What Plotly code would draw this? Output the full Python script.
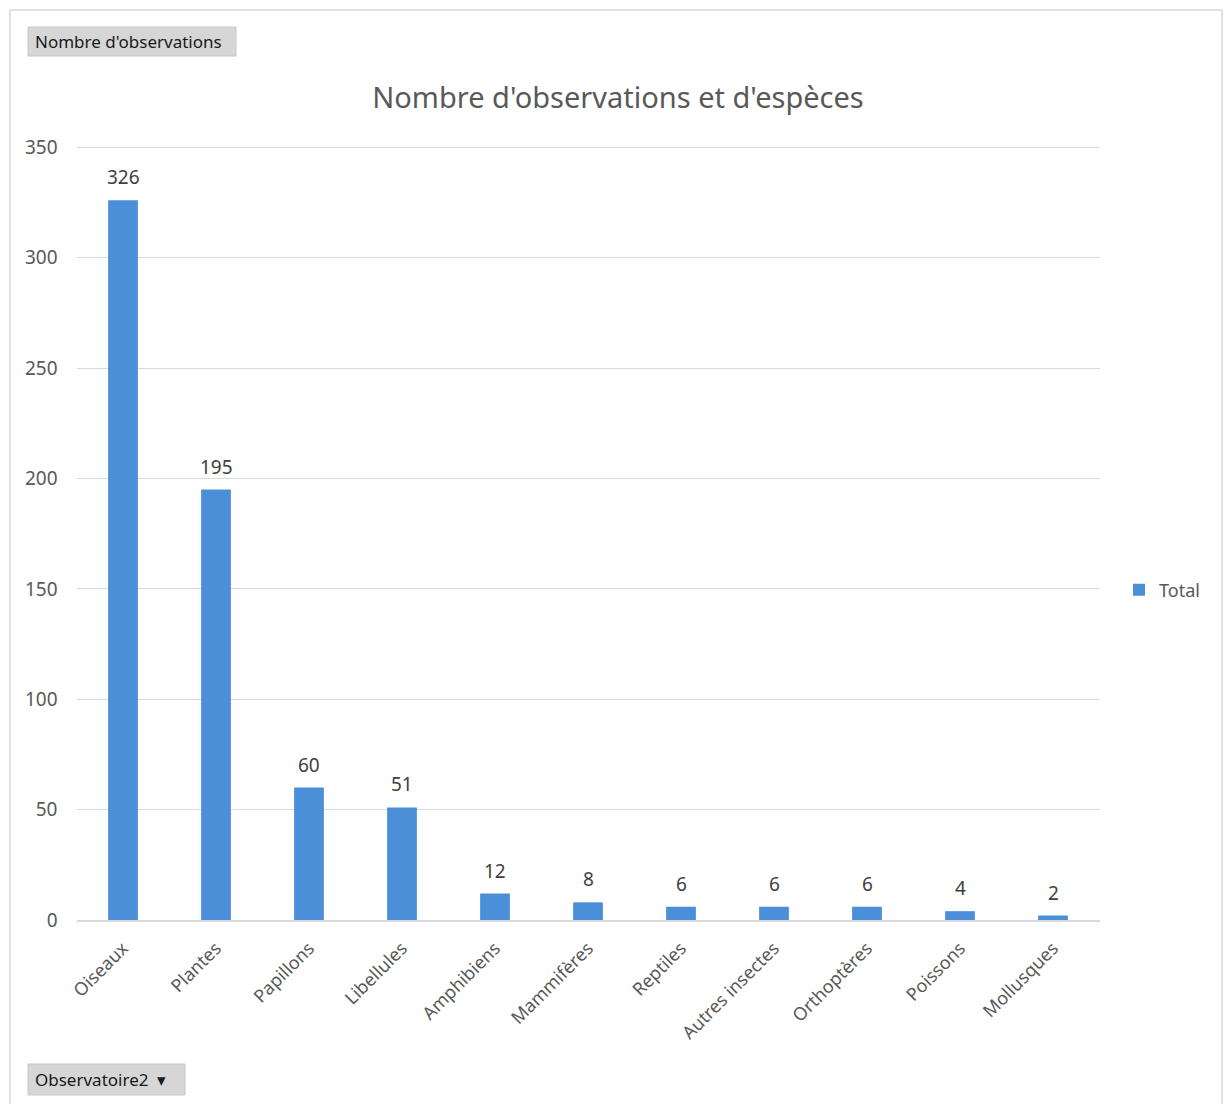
import plotly.graph_objects as go

categories = ["Oiseaux", "Plantes", "Papillons", "Libellules", "Amphibiens", "Mammifères",
              "Reptiles", "Autres insectes", "Orthoptères", "Poissons", "Mollusques"]
totals = [326, 195, 60, 51, 12, 8, 6, 6, 6, 4, 2]
y_ticks = [0, 50, 100, 150, 200, 250, 300, 350]

W, H = 1227, 1104
BAR = "#4A8FD8"
TXT = "#595959"
FONT = "Noto Sans"


def px_x(x):
    return x / W


def px_y(y):
    return 1 - y / H


fig = go.Figure(go.Bar(
    x=categories, y=totals, name="Total",
    marker=dict(color=BAR, line=dict(width=0)),
    cliponaxis=False,
))

# value labels sitting above each bar
value_labels = [
    dict(x=c, y=v, xref="x", yref="y", text=str(v), showarrow=False,
         yanchor="bottom", yshift=8, font=dict(size=19, color="#404040", family=FONT))
    for c, v in zip(categories, totals)
]

fig.update_layout(
    width=W, height=H,
    margin=dict(l=0, r=0, t=0, b=0),
    paper_bgcolor="white", plot_bgcolor="white",
    bargap=0.68,
    font=dict(family=FONT, color=TXT),
    title=dict(text="Nombre d'observations et d'espèces", x=px_x(618), xanchor="center",
               y=px_y(98), yanchor="middle", font=dict(size=29, color=TXT, family=FONT)),
    xaxis=dict(domain=[px_x(76.5), px_x(1099.5)], tickangle=-45, automargin=False,
               tickfont=dict(size=18, color=TXT), showline=True, linecolor="#d9d9d9",
               linewidth=1.5, ticks="", showgrid=False, ticklabelstandoff=9),
    yaxis=dict(domain=[px_y(920), px_y(146)], range=[0, 350.6], tickvals=y_ticks,
               automargin=False, tickfont=dict(size=19, color=TXT), showgrid=True,
               gridcolor="#d9d9d9", gridwidth=1.2, zeroline=False, ticks="",
               ticklabelstandoff=18, showline=False),
    showlegend=True,
    legend=dict(x=px_x(1119), y=px_y(590), xanchor="left", yanchor="middle",
                font=dict(size=18, color=TXT), bgcolor="rgba(0,0,0,0)",
                itemwidth=30),
    shapes=[
        dict(type="rect", xref="paper", yref="paper", x0=px_x(10), x1=px_x(1222),
             y0=px_y(1110), y1=px_y(10), line=dict(color="#d9d9d9", width=1.5),
             fillcolor="rgba(0,0,0,0)", layer="below"),
        dict(type="rect", xref="paper", yref="paper", x0=px_x(28), x1=px_x(236),
             y0=px_y(56), y1=px_y(27), line=dict(color="#c8c8c8", width=1),
             fillcolor="#d6d6d6"),
        dict(type="rect", xref="paper", yref="paper", x0=px_x(28), x1=px_x(185),
             y0=px_y(1095), y1=px_y(1064), line=dict(color="#c8c8c8", width=1),
             fillcolor="#d6d6d6"),
    ],
    annotations=value_labels + [
        dict(text="Nombre d'observations", xref="paper", yref="paper", x=px_x(33),
             y=px_y(41), xanchor="left", yanchor="middle", showarrow=False,
             font=dict(size=17, color="#1a1a1a", family=FONT)),
        dict(text="Observatoire2  ▾", xref="paper", yref="paper", x=px_x(33),
             y=px_y(1079), xanchor="left", yanchor="middle", showarrow=False,
             font=dict(size=17, color="#1a1a1a", family=FONT)),
    ],
)

fig.write_html("out.html")
